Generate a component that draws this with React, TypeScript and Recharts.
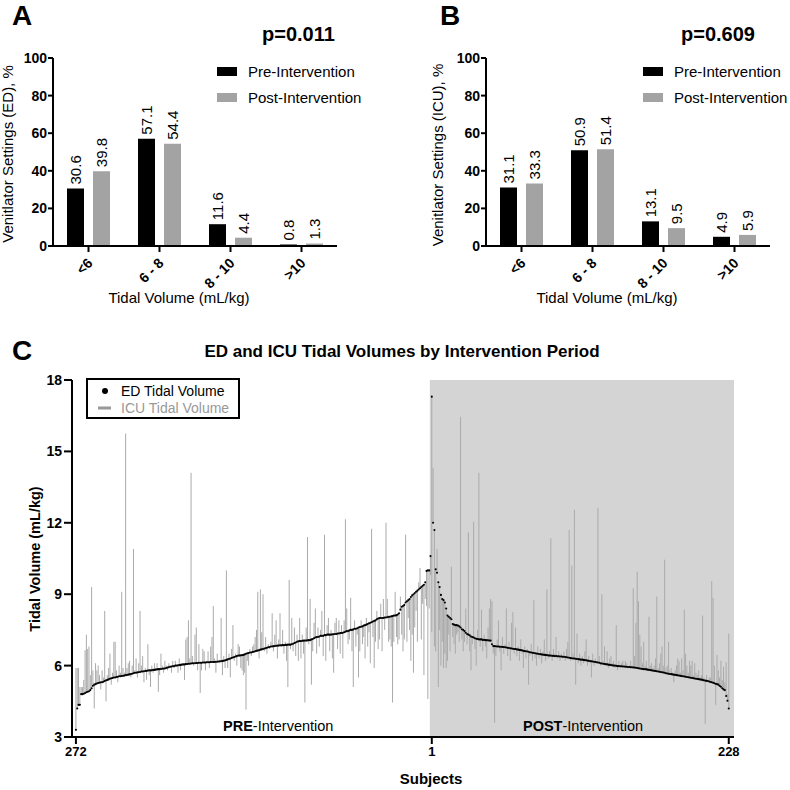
import {
  BarChart,
  Bar,
  XAxis,
  YAxis,
  LabelList,
  ScatterChart,
  Scatter,
  ErrorBar,
  ReferenceArea,
} from 'recharts'

// ── Panels A / B: tidal volume bins (%) ──────────────────────────────────────

const tvBins = ['<6', '6 - 8', '8 - 10', '>10']
const edPrePct = [30.6, 57.1, 11.6, 0.8]
const edPostPct = [39.8, 54.4, 4.4, 1.3]
const icuPrePct = [31.1, 50.9, 13.1, 4.9]
const icuPostPct = [33.3, 51.4, 9.5, 5.9]
const pctTicks = [0, 20, 40, 60, 80, 100]
const periodNames = ['Pre-Intervention', 'Post-Intervention']

// ── Panel C: per-subject tidal volumes (mL/kg) ───────────────────────────────

// pre-intervention, left to right = subject 272 … 1
const preEdTv = [
  3.3, 4.2, 4.35, 4.35, 4.8, 4.8, 4.82, 4.85, 4.88, 4.9, 4.92, 4.97, 5.05, 5.15, 5.2, 5.22, 5.25, 5.27, 5.28, 5.3,
  5.3, 5.32, 5.35, 5.38, 5.4, 5.42, 5.45, 5.47, 5.48, 5.5, 5.5, 5.52, 5.53, 5.55, 5.55, 5.56, 5.57, 5.58, 5.6, 5.6,
  5.62, 5.63, 5.65, 5.66, 5.68, 5.7, 5.7, 5.72, 5.72, 5.73, 5.75, 5.75, 5.76, 5.77, 5.78, 5.79, 5.8, 5.8, 5.8, 5.82,
  5.82, 5.83, 5.84, 5.85, 5.85, 5.86, 5.87, 5.88, 5.88, 5.9, 5.92, 5.93, 5.95, 5.96, 5.97, 5.98, 6.0, 6.0, 6.01, 6.02,
  6.03, 6.04, 6.05, 6.05, 6.06, 6.07, 6.08, 6.08, 6.09, 6.1, 6.1, 6.1, 6.11, 6.11, 6.12, 6.12, 6.12, 6.13, 6.13, 6.13,
  6.14, 6.14, 6.14, 6.15, 6.15, 6.15, 6.15, 6.16, 6.16, 6.17, 6.18, 6.18, 6.2, 6.2, 6.22, 6.24, 6.26, 6.28, 6.3, 6.32,
  6.34, 6.36, 6.38, 6.4, 6.42, 6.42, 6.43, 6.44, 6.45, 6.47, 6.5, 6.52, 6.53, 6.55, 6.55, 6.57, 6.58, 6.6, 6.62, 6.63,
  6.65, 6.67, 6.68, 6.7, 6.72, 6.73, 6.75, 6.77, 6.78, 6.8, 6.8, 6.82, 6.82, 6.83, 6.84, 6.84, 6.85, 6.85, 6.86, 6.86,
  6.87, 6.87, 6.88, 6.88, 6.88, 6.9, 6.92, 6.95, 6.97, 7.0, 7.02, 7.03, 7.03, 7.04, 7.05, 7.05, 7.05, 7.06, 7.07, 7.07,
  7.1, 7.12, 7.15, 7.18, 7.2, 7.2, 7.22, 7.25, 7.25, 7.25, 7.28, 7.28, 7.3, 7.3, 7.3, 7.3, 7.32, 7.32, 7.33, 7.33,
  7.35, 7.35, 7.37, 7.37, 7.38, 7.4, 7.42, 7.45, 7.45, 7.48, 7.5, 7.5, 7.52, 7.55, 7.55, 7.57, 7.6, 7.62, 7.63, 7.65,
  7.68, 7.7, 7.72, 7.75, 7.78, 7.8, 7.82, 7.85, 7.88, 7.9, 7.95, 7.98, 8.0, 8.0, 8.0, 8.0, 8.02, 8.02, 8.03, 8.05,
  8.05, 8.07, 8.08, 8.1, 8.1, 8.12, 8.15, 8.2, 8.35, 8.47, 8.5, 8.55, 8.65, 8.7, 8.75, 8.8, 8.88, 8.95, 9.0, 9.05,
  9.1, 9.15, 9.2, 9.25, 9.3, 9.35, 9.4, 9.5, 9.98, 10.0, 10.0, 10.6,
]

const preIcuTv = [
  5.9, 5.9, 5.9, 5.1, 5.1, 5.1, 5.4, 6.65, 7.3, 6.7, 6.8, 5.6, 9.3, 5.8, 4.2, 6.1, 5.8, 6.0, 5.6, 5.0,
  5.8, 5.5, 8.3, 4.5, 5.6, 5.9, 6.5, 5.2, 5.7, 7.0, 7.0, 5.8, 5.3, 6.0, 5.7, 9.1, 5.9, 5.7, 15.75, 5.9,
  6.1, 6.2, 5.5, 6.0, 10.9, 5.8, 6.3, 5.5, 6.1, 8.3, 6.0, 6.4, 5.3, 5.9, 5.4, 6.9, 5.6, 5.1, 6.0, 5.7,
  6.1, 5.9, 6.1, 4.9, 5.6, 6.5, 6.0, 5.7, 6.2, 6.0, 5.8, 6.1, 6.0, 5.7, 6.2, 5.9, 6.2, 6.0, 5.7, 6.3,
  5.8, 6.1, 6.0, 5.4, 7.1, 7.2, 7.9, 6.3, 14.1, 6.4, 6.0, 7.3, 7.6, 5.8, 6.9, 4.85, 5.8, 6.7, 6.6, 5.8,
  6.2, 6.6, 5.9, 6.8, 7.2, 8.5, 6.3, 5.7, 6.5, 6.2, 6.1, 8.0, 5.6, 6.4, 5.9, 10.0, 5.9, 6.5, 5.5, 6.7,
  7.7, 6.2, 6.5, 6.0, 6.9, 6.8, 5.9, 5.8, 5.6, 5.7, 4.15, 6.2, 6.0, 6.7, 6.4, 6.8, 6.9, 7.2, 7.5, 9.1,
  6.3, 9.2, 7.4, 9.0, 6.6, 7.2, 6.5, 6.9, 6.7, 7.0, 8.2, 6.6, 7.3, 7.9, 6.3, 7.1, 8.2, 6.8, 7.5, 6.5,
  7.0, 6.2, 5.1, 9.6, 6.7, 8.0, 6.6, 7.6, 6.4, 7.3, 6.2, 8.0, 6.3, 7.3, 6.5, 4.45, 7.6, 11.4, 6.9, 8.8,
  5.2, 6.6, 7.8, 8.4, 6.5, 7.6, 6.8, 7.5, 8.3, 6.4, 11.5, 6.2, 7.7, 8.0, 6.6, 7.5, 6.3, 5.7, 7.8, 8.0,
  6.7, 7.9, 6.5, 7.7, 6.3, 7.9, 12.15, 8.4, 6.9, 7.1, 8.85, 6.6, 5.1, 7.9, 6.8, 7.3, 5.5, 6.6, 7.9, 6.9,
  7.2, 6.3, 8.0, 6.8, 7.4, 6.1, 11.75, 7.2, 5.9, 7.0, 8.3, 6.7, 7.1, 8.6, 6.6, 8.8, 7.5, 12.0, 8.8, 7.0,
  7.1, 6.8, 4.45, 7.0, 9.1, 7.2, 6.9, 7.1, 8.9, 7.3, 6.6, 7.1, 11.5, 7.0, 8.0, 7.5, 6.2, 7.3, 5.7, 7.6,
  8.3, 7.0, 9.5, 10.1, 7.1, 8.6, 5.6, 8.8, 8.5, 4.6, 8.4, 9.8,
]

// post-intervention, left to right = subject 1 … 228
const postEdTv = [
  17.3, 12.0, 11.7, 10.05, 9.9, 9.5, 9.3, 8.97, 8.8, 8.75, 8.65, 8.4, 8.1, 8.05, 8.0, 7.95, 7.75, 7.72, 7.7, 7.7,
  7.68, 7.65, 7.6, 7.53, 7.5, 7.45, 7.38, 7.33, 7.3, 7.27, 7.22, 7.2, 7.18, 7.15, 7.13, 7.12, 7.1, 7.1, 7.1, 7.08,
  7.08, 7.07, 7.07, 7.06, 7.05, 7.05, 6.9, 6.82, 6.82, 6.81, 6.8, 6.8, 6.79, 6.79, 6.78, 6.78, 6.77, 6.76, 6.75, 6.74,
  6.73, 6.72, 6.71, 6.7, 6.7, 6.68, 6.67, 6.66, 6.65, 6.64, 6.62, 6.61, 6.6, 6.59, 6.58, 6.56, 6.55, 6.54, 6.53, 6.52,
  6.51, 6.5, 6.49, 6.48, 6.47, 6.46, 6.45, 6.45, 6.44, 6.43, 6.42, 6.42, 6.41, 6.41, 6.4, 6.4, 6.39, 6.39, 6.38, 6.38,
  6.37, 6.37, 6.36, 6.35, 6.34, 6.33, 6.32, 6.31, 6.3, 6.3, 6.29, 6.28, 6.27, 6.26, 6.25, 6.25, 6.24, 6.23, 6.22, 6.21,
  6.2, 6.19, 6.18, 6.17, 6.16, 6.15, 6.14, 6.13, 6.12, 6.1, 6.09, 6.08, 6.07, 6.06, 6.05, 6.04, 6.03, 6.02, 6.01, 6.0,
  6.0, 5.99, 5.98, 5.98, 5.97, 5.97, 5.96, 5.96, 5.95, 5.95, 5.94, 5.94, 5.93, 5.93, 5.92, 5.92, 5.91, 5.9, 5.89, 5.88,
  5.87, 5.86, 5.85, 5.85, 5.84, 5.83, 5.82, 5.81, 5.8, 5.79, 5.78, 5.77, 5.76, 5.75, 5.74, 5.73, 5.72, 5.71, 5.7, 5.68,
  5.67, 5.66, 5.65, 5.64, 5.63, 5.62, 5.61, 5.6, 5.59, 5.58, 5.57, 5.56, 5.55, 5.54, 5.53, 5.52, 5.51, 5.5, 5.49, 5.48,
  5.47, 5.46, 5.45, 5.44, 5.43, 5.42, 5.41, 5.4, 5.38, 5.37, 5.36, 5.35, 5.33, 5.31, 5.3, 5.28, 5.26, 5.24, 5.22, 5.2,
  5.15, 5.11, 5.05, 5.0, 4.97, 4.72, 4.52, 4.2,
]

const postIcuTv = [
  7.4, 14.3, 6.8, 6.6, 10.9, 5.1, 7.5, 6.0, 7.0, 5.9, 6.5, 5.9, 6.2, 7.3, 6.6, 10.15, 7.2, 6.9, 6.5, 7.3,
  7.4, 7.0, 16.45, 7.1, 6.6, 7.0, 8.4, 6.9, 11.6, 6.6, 5.8, 6.9, 12.05, 6.7, 6.0, 7.5, 14.1, 6.8, 8.35, 6.6,
  7.3, 6.8, 6.3, 7.6, 8.4, 8.8, 8.7, 6.5, 3.6, 6.4, 7.1, 7.9, 6.6, 5.8, 7.2, 6.5, 6.9, 8.4, 6.4, 7.0,
  6.2, 7.8, 8.25, 6.5, 7.6, 6.4, 6.8, 6.2, 7.1, 6.5, 5.9, 6.8, 6.3, 6.7, 5.2, 6.4, 6.9, 6.2, 8.75, 6.3,
  6.0, 6.8, 6.3, 6.7, 6.1, 6.6, 7.1, 6.2, 9.2, 6.3, 6.6, 11.35, 6.2, 6.7, 6.5, 7.2, 6.3, 6.6, 6.2, 6.5,
  6.3, 6.6, 6.2, 6.7, 7.0, 11.7, 6.2, 10.2, 6.5, 12.55, 5.2, 7.35, 6.1, 6.5, 6.0, 6.4, 6.1, 6.6, 7.1, 6.0,
  6.4, 6.1, 5.5, 6.5, 6.0, 6.3, 6.1, 12.63, 6.4, 6.0, 9.0, 6.2, 6.8, 6.0, 6.6, 5.9, 6.3, 6.4, 6.1, 6.2,
  5.9, 7.7, 5.8, 6.2, 5.9, 6.1, 6.2, 6.0, 6.2, 6.1, 5.9, 6.0, 6.2, 6.0, 9.25, 6.4, 7.8, 9.95, 8.7, 7.3,
  6.8, 6.1, 7.0, 6.0, 6.2, 5.9, 8.05, 6.0, 6.1, 5.9, 6.0, 6.3, 8.9, 5.9, 6.1, 6.5, 6.8, 6.0, 10.45, 5.9,
  6.0, 7.0, 5.8, 5.9, 5.7, 5.3, 5.8, 6.0, 6.3, 6.2, 5.7, 6.3, 5.8, 8.35, 6.5, 6.0, 5.7, 6.2, 6.0, 6.2,
  5.6, 6.1, 5.7, 5.6, 5.8, 5.5, 5.6, 8.1, 5.5, 3.55, 5.6, 5.4, 5.5, 5.5, 9.55, 8.85, 6.0, 4.35, 6.45, 5.8,
  5.5, 6.2, 5.4, 5.95, 5.3, 6.15, 4.8, 7.35,
]

const tvTicks = [3, 6, 9, 12, 15, 18]
const subjectTickPos = [0, 272, 499]
const subjectTickLabels = ['272', '1', '228']
const legendNamesC = ['ED Tidal Volume', 'ICU Tidal Volume']

// ── Styles ───────────────────────────────────────────────────────────────────

const FONT = 'Arial, "Liberation Sans", Helvetica, sans-serif'
const BAR_GRAY = '#a3a3a3'
const LINE_GRAY = '#aaaaaa'
const SHADE = '#d4d4d4'

const axisStroke = { stroke: '#000', strokeWidth: 2 }
const boldTick = { fill: '#000', fontSize: 14, fontWeight: 'bold', fontFamily: FONT }

// ── Data builders ────────────────────────────────────────────────────────────

function buildBins(pre: number[], post: number[]) {
  return tvBins.map((bin, i) => ({ bin, pre: pre[i], post: post[i] }))
}

function subjectPoint(pos: number, ed: number, icu: number) {
  // error bar = [distance below ED, distance above ED]
  return { pos, ed, err: [Math.max(0, ed - icu), Math.max(0, icu - ed)] }
}

const edBins = buildBins(edPrePct, edPostPct)
const icuBins = buildBins(icuPrePct, icuPostPct)

const subjectData = [
  ...preEdTv.map((ed, i) => subjectPoint(i, ed, preIcuTv[i])),
  ...postEdTv.map((ed, i) => subjectPoint(preEdTv.length + i, ed, postIcuTv[i])),
]

// ── Small renderers ──────────────────────────────────────────────────────────

function AngledTick(props: any) {
  const { x, y, payload } = props
  const ax = x + 5
  const ay = y + 10
  return (
    <text
      x={ax}
      y={ay}
      transform={`rotate(-45, ${ax}, ${ay})`}
      textAnchor="end"
      fontSize={14}
      fontWeight="bold"
      fontFamily={FONT}
      fill="#000"
    >
      {payload.value}
    </text>
  )
}

function VerticalValue(props: any) {
  const { x, y, width, value } = props
  const cx = x + width / 2
  const ty = y - 4
  return (
    <text
      x={cx}
      y={ty}
      transform={`rotate(-90, ${cx}, ${ty})`}
      textAnchor="start"
      dominantBaseline="central"
      fontSize={15}
      fontFamily={FONT}
      fill="#000"
    >
      {value}
    </text>
  )
}

const edDot = (p: any) => <circle cx={p.cx} cy={p.cy} r={1.05} fill="#000" />

function BinPanel({ data, axisWidth, right }: { data: any[]; axisWidth: number; right: number }) {
  return (
    <BarChart
      width={395}
      height={320}
      data={data}
      margin={{ top: 58, right, bottom: 0, left: 0 }}
      barSize={17}
      barGap={9}
    >
      <XAxis
        dataKey="bin"
        height={74}
        interval={0}
        tick={<AngledTick />}
        tickSize={6}
        axisLine={axisStroke}
        tickLine={axisStroke}
      />
      <YAxis
        domain={[0, 100]}
        ticks={pctTicks}
        interval={0}
        width={axisWidth}
        tickSize={5}
        tickMargin={1}
        axisLine={axisStroke}
        tickLine={axisStroke}
        tick={boldTick}
      />
      <Bar dataKey="pre" fill="#000" isAnimationActive={false}>
        <LabelList dataKey="pre" content={VerticalValue} />
      </Bar>
      <Bar dataKey="post" fill={BAR_GRAY} isAnimationActive={false}>
        <LabelList dataKey="post" content={VerticalValue} />
      </Bar>
    </BarChart>
  )
}

function PeriodLegend({ x }: { x: number }) {
  return (
    <g>
      <rect x={x} y={67} width={20} height={9} fill="#000" />
      <text x={x + 31} y={77} fontSize={15}>{periodNames[0]}</text>
      <rect x={x} y={93} width={20} height={9} fill={BAR_GRAY} />
      <text x={x + 31} y={103} fontSize={15}>{periodNames[1]}</text>
    </g>
  )
}

// ── Component ────────────────────────────────────────────────────────────────

export default function App() {
  return (
    <div
      style={{
        position: 'relative',
        width: 790,
        height: 790,
        background: '#fff',
        fontFamily: FONT,
        overflow: 'hidden',
      }}
    >
      <style>{'body{margin:0}'}</style>

      {/* A: ED settings */}
      <div style={{ position: 'absolute', left: 0, top: 0 }}>
        <BinPanel data={edBins} axisWidth={53} right={58} />
      </div>

      {/* B: ICU settings */}
      <div style={{ position: 'absolute', left: 395, top: 0 }}>
        <BinPanel data={icuBins} axisWidth={91} right={20} />
      </div>

      {/* C: per-subject tidal volumes */}
      <div style={{ position: 'absolute', left: 0, top: 330 }}>
        <ScatterChart width={790} height={460} margin={{ top: 50, right: 56, bottom: 0, left: 0 }}>
          <ReferenceArea
            x1={270.5}
            x2={503}
            y1={3}
            y2={18}
            fill={SHADE}
            fillOpacity={1}
            stroke="none"
          />
          <XAxis
            dataKey="pos"
            type="number"
            domain={[-3, 503]}
            ticks={subjectTickPos}
            interval={0}
            tickFormatter={(v: number) => subjectTickLabels[subjectTickPos.indexOf(v)] ?? ''}
            height={53}
            tickSize={7}
            tickMargin={3}
            axisLine={axisStroke}
            tickLine={axisStroke}
            tick={{ ...boldTick, fontSize: 13 }}
            allowDataOverflow
          />
          <YAxis
            dataKey="ed"
            type="number"
            domain={[3, 18]}
            ticks={tvTicks}
            interval={0}
            width={72}
            tickSize={8}
            tickMargin={2}
            axisLine={axisStroke}
            tickLine={axisStroke}
            tick={boldTick}
            allowDataOverflow
          />
          <Scatter data={subjectData} shape={edDot} isAnimationActive={false}>
            <ErrorBar
              dataKey="err"
              direction="y"
              width={0}
              stroke={LINE_GRAY}
              strokeWidth={1}
              isAnimationActive={false}
            />
          </Scatter>
        </ScatterChart>
      </div>

      {/* Titles, legends and panel letters */}
      <svg
        width={790}
        height={790}
        style={{ position: 'absolute', left: 0, top: 0, pointerEvents: 'none' }}
        fontFamily={FONT}
        fill="#000"
      >
        <text x={12} y={25} fontSize={28} fontWeight="bold">A</text>
        <text x={440} y={25} fontSize={28} fontWeight="bold">B</text>
        <text x={12} y={360} fontSize={28} fontWeight="bold">C</text>

        <text x={262} y={41} fontSize={20} fontWeight="bold">p=0.011</text>
        <text x={681} y={41} fontSize={20} fontWeight="bold">p=0.609</text>

        <PeriodLegend x={217} />
        <PeriodLegend x={643} />

        <text transform="translate(13,154) rotate(-90)" textAnchor="middle" fontSize={15}>
          Venitlator Settings (ED), %
        </text>
        <text transform="translate(443,155) rotate(-90)" textAnchor="middle" fontSize={15}>
          Venitlator Settings (ICU), %
        </text>
        <text x={179} y={303} textAnchor="middle" fontSize={15}>Tidal Volume (mL/kg)</text>
        <text x={607} y={303} textAnchor="middle" fontSize={15}>Tidal Volume (mL/kg)</text>

        <text x={402} y={357} textAnchor="middle" fontSize={17} fontWeight="bold">
          ED and ICU Tidal Volumes by Intervention Period
        </text>
        <text transform="translate(40,559) rotate(-90)" textAnchor="middle" fontSize={14.5} fontWeight="bold">
          Tidal Volume (mL/kg)
        </text>
        <text x={431} y={784} textAnchor="middle" fontSize={15} fontWeight="bold">Subjects</text>

        <text x={223} y={731} fontSize={14.5}>
          <tspan fontWeight="bold">PRE</tspan>-Intervention
        </text>
        <text x={523} y={731} fontSize={14.5}>
          <tspan fontWeight="bold">POST</tspan>-Intervention
        </text>

        <rect x={87} y={379} width={152} height={39} fill="#fff" stroke="#000" strokeWidth={2} />
        <circle cx={105} cy={391} r={3} fill="#000" />
        <text x={121} y={396} fontSize={14}>{legendNamesC[0]}</text>
        <line x1={98} x2={111} y1={408} y2={408} stroke="#999" strokeWidth={3} />
        <text x={121} y={413} fontSize={14} fill="#999">{legendNamesC[1]}</text>
      </svg>
    </div>
  )
}
